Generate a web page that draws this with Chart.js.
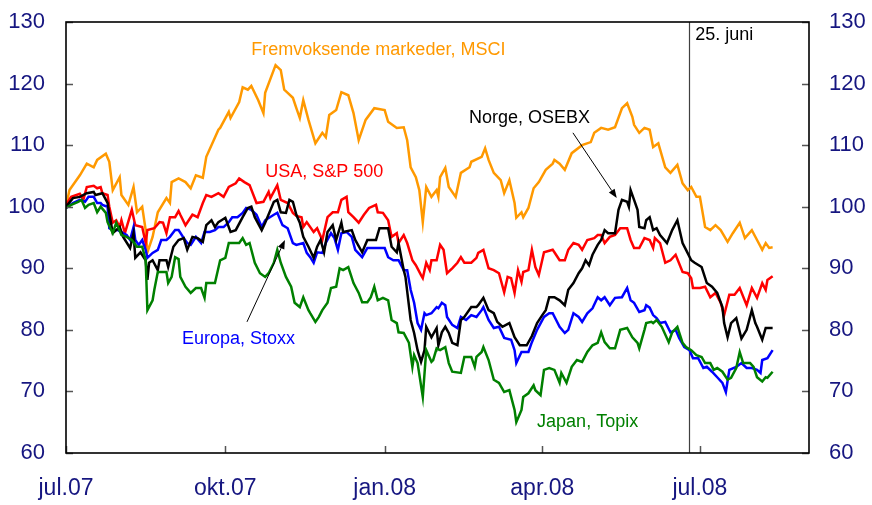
<!DOCTYPE html>
<html lang="no">
<head>
<meta charset="UTF-8">
<title>Aksjeindekser</title>
<script src="https://cdn.jsdelivr.net/npm/chart.js@4"></script>
<style>
  * { margin: 0; padding: 0; box-sizing: border-box; }
  body { background: #fff; }
  .wrap { position: relative; width: 872px; height: 505px; }
</style>
</head>
<body>
<div class="wrap"><canvas id="chart"></canvas></div>
<script>
// x = days since 1 Jul 2007, y = index (1 Jul 2007 = 100)
const tickDays = [0, 92, 184, 275, 366];
const tickLabels = ['jul.07', 'okt.07', 'jan.08', 'apr.08', 'jul.08'];
const markerDay = 360; // 25. juni

const msci = [[0,100],[2,102.7],[8,105.1],[12,107],[16,106.4],[18,107.6],[23,108.6],[25,107.3],[27,102.7],[31,104.8],[32,101.9],[36,100.3],[39,103.2],[41,99.1],[44,100],[46,96.2],[47,92.6],[50,95.1],[53,99.1],[58,101.4],[60,100.6],[61,104],[65,104.6],[69,104],[72,103],[75,105.1],[79,104.7],[81,108.1],[84,110],[88,112.5],[89,112.8],[94,115.4],[95,114.4],[100,117],[102,119.4],[105,119],[107,119.6],[111,117.3],[114,115.2],[115,118.5],[121,123],[124,122.2],[126,119],[128,118.5],[131,117.7],[133,116],[135,114.4],[137,117.3],[140,114.1],[144,110.3],[148,112],[150,111.3],[152,114.9],[156,115.7],[159,118.6],[163,118.1],[166,115.2],[169,110.8],[173,114.1],[178,116],[184,115.7],[186,113.8],[191,112.8],[195,112.9],[197,110.8],[199,106.4],[202,104.8],[204,102.7],[206,97.5],[208,103.2],[211,101.6],[214,102.7],[215,101.6],[216,104.8],[219,106.3],[221,103.2],[225,101.6],[228,105.5],[233,106.4],[234,107.3],[240,108.1],[242,109.5],[244,107.6],[247,105.5],[251,104.3],[253,102.2],[256,104.3],[259,100.6],[260,98.2],[263,99.1],[264,98.3],[267,99.8],[270,103],[273,104],[277,106],[281,107],[282,107.6],[285,107],[288,106],[292,108.7],[298,110],[303,110.5],[305,112],[309,112.8],[313,112.5],[317,112.9],[321,116],[324,116.8],[327,114.6],[328,113.3],[331,112],[334,112.8],[337,112.5],[339,109.7],[342,110.3],[346,106.4],[349,105.5],[353,106.8],[356,103.8],[359,102.7],[361,103.2],[364,101.6],[366,101.6],[369,96.7],[372,96.2],[375,97],[378,96.2],[382,94.3],[385,95.7],[389,97.4],[392,94.9],[396,96.2],[399,94.6],[402,93],[404,94.1],[406,93.3],[408,93.4]];

const sp500 = [[0,100.3],[3,101.6],[8,102.1],[10,101.1],[12,103.2],[16,103.4],[18,103],[20,103.2],[21,102.2],[24,101.9],[25,100],[27,97.4],[29,97.8],[31,96.7],[32,97.8],[34,95.7],[38,99.5],[40,97],[44,96.7],[46,94.1],[47,96.2],[51,96.5],[54,97.5],[56,97.4],[58,95.7],[60,98.3],[63,98.3],[65,99.3],[66,98.7],[69,97],[73,98.7],[76,98.3],[79,100.6],[81,101.9],[84,101.6],[88,102.2],[91,101.6],[94,103.2],[98,103.8],[100,104.6],[103,104],[106,103.5],[110,100.6],[114,100.8],[117,102.4],[118,101.4],[122,103.5],[124,101.1],[128,100.6],[131,99],[133,98.5],[136,98.3],[137,96.7],[139,97.5],[143,95.9],[145,96.5],[148,94.6],[151,98.3],[154,99.1],[157,99.1],[159,101.1],[162,101.6],[163,99.1],[166,98.3],[169,97.4],[172,98.7],[175,99.8],[179,100.3],[180,99.1],[183,99],[186,97.8],[188,95.1],[191,95.7],[192,94.1],[195,95.4],[197,94.1],[200,91.3],[202,90.5],[205,88.9],[206,88.4],[208,90.9],[210,89.7],[211,91.3],[214,91.3],[216,93.8],[218,93],[220,89.2],[223,90],[226,90.9],[228,91.8],[230,90.9],[234,90.9],[237,91.7],[238,92.5],[241,93],[244,90],[247,89.7],[250,89.2],[253,86.1],[255,88.6],[257,88.4],[259,86],[261,89.7],[263,87.8],[264,89.4],[267,89.7],[269,93],[271,90.2],[273,88.9],[276,92.6],[281,93],[282,92.6],[285,91.3],[288,91.3],[290,93],[293,94.1],[296,93.8],[298,93],[301,94.6],[305,94.9],[307,95.4],[309,95.4],[311,94.1],[314,95.1],[317,95.4],[320,96.5],[324,96.5],[326,94.6],[328,93.3],[331,93.3],[334,94.9],[337,94.6],[339,93.3],[340,94.9],[343,94.1],[346,90.9],[349,91.3],[352,92.2],[356,89.4],[359,89.2],[361,88.4],[362,86.8],[366,86.8],[369,87],[372,85.3],[375,86],[378,84.4],[380,82.4],[383,85.7],[386,85.7],[389,86.8],[393,84],[396,86.8],[399,85.2],[402,87.6],[404,86.5],[405,88.1],[408,88.7]];

const osebx = [[0,100],[4,101.4],[8,101.6],[12,102.2],[16,102.4],[17,101.9],[21,102.2],[24,100.6],[27,95.7],[29,96.2],[31,96.7],[33,95.1],[37,93.3],[39,95.7],[40,91.7],[43,92.6],[46,91.3],[47,88.1],[48,90.9],[50,91.3],[53,89.7],[54,91.3],[58,91.3],[59,90.2],[62,93.5],[65,94.6],[68,94.9],[70,93],[73,95.1],[76,94.9],[79,94.3],[81,97],[84,97.8],[86,96.7],[88,97.5],[92,98.2],[95,95.9],[98,96.2],[102,98.3],[105,99.8],[107,100],[109,98.3],[113,96.2],[115,97.4],[120,100.8],[122,101.1],[124,99.1],[127,99],[129,101.1],[131,100.8],[133,98.7],[135,97.4],[137,95.1],[140,93.5],[143,91.7],[145,93.5],[147,94.6],[149,92.6],[151,95.9],[154,97],[156,94.6],[159,97.4],[160,95.9],[165,96.2],[167,94.6],[171,92.6],[174,94.6],[179,94.6],[181,96.5],[186,96.5],[188,93.5],[191,92.6],[192,94.1],[195,89.7],[196,88.6],[199,81.6],[201,79.5],[203,76.7],[205,74.8],[207,76.7],[208,80.5],[211,78.8],[214,80.3],[215,77.5],[217,79.6],[219,80.5],[221,79.5],[223,77.9],[226,77.5],[228,81.6],[230,82.1],[234,83.7],[237,83.7],[238,84],[241,85.2],[244,83.2],[247,82.7],[249,81.3],[252,80.5],[256,81.1],[259,78.8],[262,77.5],[266,77.5],[269,79],[272,81.1],[275,82.4],[277,83.2],[279,85.3],[282,85.3],[285,84.8],[288,84],[290,86.5],[293,87.6],[296,89.2],[298,90],[300,91.3],[302,90.5],[304,92.2],[307,93.8],[309,94.6],[311,96.2],[313,95.7],[317,95.7],[319,99.5],[321,101.1],[324,100.8],[325,100],[326,102.7],[328,101.1],[330,99.5],[331,96.7],[334,96.5],[335,97.8],[337,98.3],[339,96.2],[341,96.5],[343,95.4],[347,94.1],[350,96.2],[353,97.8],[356,94.1],[358,93],[361,91.3],[363,90.9],[367,90.2],[370,87.6],[373,87],[376,86],[379,83.7],[380,81.1],[382,78.8],[384,81.1],[387,81.9],[390,78.6],[393,80],[396,83.2],[398,81.1],[399,80.5],[402,78.4],[404,80.3],[405,80.3],[408,80.3]];

const stoxx = [[0,99.8],[4,100.6],[8,101.1],[11,100.8],[13,101.6],[16,101.6],[18,100.6],[20,100.6],[21,100.3],[24,100],[25,96.5],[27,96.2],[30,96.2],[33,95.7],[35,95.4],[37,94.6],[39,96.7],[40,94.6],[42,93.8],[44,94.6],[46,93],[47,91.7],[50,92.5],[53,93],[55,94.6],[58,94.6],[60,95.1],[63,96.2],[65,96.2],[68,94.9],[70,94.1],[72,93.8],[75,95.1],[78,94.1],[80,95.9],[83,95.9],[86,96.2],[88,96.7],[91,96.7],[94,97.5],[96,98.3],[99,98.3],[102,99],[104,99.8],[107,99.5],[110,98.7],[113,96.7],[115,97.8],[120,98.7],[122,99],[125,97],[128,96.5],[131,94.1],[133,93.8],[137,94.1],[139,92.5],[141,91.8],[143,90.9],[145,92.6],[148,92.5],[150,94.1],[153,95.7],[155,94.9],[157,93],[159,95.7],[162,95.9],[165,95.1],[167,93],[171,91.8],[174,93.3],[179,93.3],[184,93.3],[186,91.8],[189,91.3],[192,91.3],[195,89.7],[197,89.7],[199,86.5],[201,84.4],[203,81.1],[205,80],[207,82.7],[208,82.4],[211,82.7],[214,83.7],[215,83.5],[217,84.4],[219,84],[220,82.1],[223,80.8],[226,80.3],[228,82.1],[231,81.6],[234,82.4],[237,82.1],[240,83.2],[241,83.7],[244,81.6],[247,80.3],[250,80.5],[253,78.7],[257,78.4],[259,76.7],[260,74.6],[263,76.4],[267,76.4],[269,78],[272,80],[276,82.1],[279,82.7],[281,82.7],[283,81.6],[285,80.5],[288,79.5],[290,80],[293,82.7],[296,82.1],[298,81.3],[301,82.7],[304,83.5],[307,85.3],[309,84.8],[311,85.3],[314,84],[317,85.2],[321,85.3],[324,86.8],[326,84.8],[328,84.4],[331,82.9],[334,83.2],[335,84],[337,83.6],[339,82.4],[341,81.9],[343,81.1],[346,81.3],[349,79.6],[352,80],[354,78.7],[357,77.2],[360,76.7],[362,75.4],[365,75.4],[368,73.8],[370,74],[373,73.2],[376,72.3],[379,71.4],[381,69.9],[383,73.5],[387,74],[390,74.6],[393,73.8],[396,73.8],[399,73.5],[401,73],[402,75.1],[405,75.4],[408,76.7]];

const topix = [[0,99.8],[3,100.3],[7,100.8],[9,101.1],[11,99.8],[13,100.3],[16,100.6],[18,99.1],[20,100],[23,99],[24,97.5],[27,95.7],[29,97.4],[32,95.4],[35,95.1],[38,94.6],[41,93.5],[44,93.5],[46,91.3],[47,83.2],[50,84.8],[51,86.5],[53,89.4],[55,89.4],[58,89.4],[59,87.6],[61,88.6],[63,91.8],[65,91.5],[66,88.6],[69,87],[72,86],[75,86.8],[78,86.8],[80,85.2],[81,87.6],[86,87.6],[89,91.3],[92,91.7],[94,94.1],[100,94.1],[102,94.9],[104,93.8],[106,94.1],[109,90.9],[112,89.2],[115,88.6],[117,89.2],[120,90.9],[122,93],[124,90.9],[127,88.6],[130,87],[132,84.4],[135,83.7],[137,85.3],[140,83.2],[141,82.7],[144,81.3],[146,82.1],[148,83.2],[151,84.4],[153,86.8],[156,87],[158,90],[160,89.7],[163,90.2],[166,87.6],[169,86],[171,84.5],[174,84.5],[176,85.3],[178,87],[180,84.8],[183,85.2],[186,84.8],[188,81.6],[191,81.1],[192,79.6],[195,79.5],[198,77.9],[200,74],[201,75.9],[203,74.6],[206,69.1],[208,76.7],[211,74.8],[212,75.1],[214,77],[216,76.7],[219,77.2],[221,74.6],[223,73.2],[228,73],[230,75.6],[234,75.6],[236,74],[237,75.6],[240,76.4],[241,77.2],[244,75.1],[247,71.9],[250,71.4],[253,69.9],[256,70.2],[259,67],[260,65],[263,67],[264,69.1],[267,69.7],[270,71],[271,70.2],[274,69.4],[276,73.5],[279,73.8],[282,73.5],[285,71.4],[286,73],[289,71.4],[292,74],[295,75.1],[298,74.8],[301,76.4],[304,77.5],[307,77.9],[309,79.6],[311,78],[314,77],[317,77],[320,80],[324,80.3],[327,78.8],[330,77.9],[331,77],[334,80],[335,81.1],[338,81.3],[339,81.1],[341,81.6],[344,80.5],[348,78],[350,79.6],[353,80.5],[356,77.9],[358,77.2],[361,76.7],[364,75.9],[367,75.6],[369,74.6],[372,74.6],[374,73.5],[376,73.8],[379,73.2],[382,71.9],[384,72.2],[387,73.8],[389,76.4],[391,74.6],[395,74.6],[397,74],[399,72.3],[402,71.6],[404,72.3],[405,72.2],[408,73.2]];

// labels placed in data units: left edge day, vertical middle value
const notes = [
  { text: 'Fremvoksende markeder, MSCI', day: 107, value: 125.5, color: '#FF9900' },
  { text: 'USA, S&P 500', day: 115, value: 105.6, color: '#FF0000' },
  { text: 'Norge, OSEBX', day: 232.7, value: 114.4, color: '#000000' },
  { text: 'Europa, Stoxx', day: 67, value: 78.5, color: '#0000FF' },
  { text: 'Japan, Topix', day: 272, value: 65, color: '#008000' },
  { text: '25. juni', day: 363.3, value: 127.9, color: '#000000' }
];
const arrows = [
  { from: [292.7, 112], to: [318, 101.4] },
  { from: [104.5, 81.3], to: [126.4, 94.6] }
];

const navy = '#161680';
const fontFam = '"Liberation Sans", Arial, sans-serif';

const overlay = {
  id: 'overlay',
  beforeDatasetsDraw(chart) {
    const { ctx, chartArea: a, scales: { x } } = chart;
    const px = Math.round(x.getPixelForValue(markerDay)) + 0.5;
    ctx.save();
    ctx.strokeStyle = '#404040';
    ctx.lineWidth = 1.2;
    ctx.beginPath();
    ctx.moveTo(px, a.top);
    ctx.lineTo(px, a.bottom);
    ctx.stroke();
    ctx.restore();
  },
  afterDatasetsDraw(chart) {
    const { ctx, chartArea: a, scales: { x, y } } = chart;
    ctx.save();
    // inward tick marks
    ctx.strokeStyle = '#555';
    ctx.lineWidth = 1.5;
    ctx.beginPath();
    y.ticks.forEach(t => {
      const py = Math.round(y.getPixelForValue(t.value)) + 0.5;
      ctx.moveTo(a.left, py); ctx.lineTo(a.left + 7, py);
      ctx.moveTo(a.right, py); ctx.lineTo(a.right - 7, py);
    });
    tickDays.forEach(d => {
      const px = Math.round(x.getPixelForValue(d)) + 0.5;
      ctx.moveTo(px, a.bottom); ctx.lineTo(px, a.bottom - 7);
    });
    ctx.stroke();
    // frame
    ctx.strokeStyle = '#000';
    ctx.lineWidth = 1.6;
    ctx.strokeRect(a.left, a.top, a.right - a.left, a.bottom - a.top);
    // text labels
    ctx.font = '18px ' + fontFam;
    ctx.textBaseline = 'middle';
    ctx.textAlign = 'left';
    notes.forEach(n => {
      ctx.fillStyle = n.color;
      ctx.fillText(n.text, x.getPixelForValue(n.day), y.getPixelForValue(n.value));
    });
    // arrows
    ctx.strokeStyle = '#000';
    ctx.fillStyle = '#000';
    ctx.lineWidth = 1;
    arrows.forEach(ar => {
      const x1 = x.getPixelForValue(ar.from[0]), y1 = y.getPixelForValue(ar.from[1]);
      const x2 = x.getPixelForValue(ar.to[0]), y2 = y.getPixelForValue(ar.to[1]);
      const ang = Math.atan2(y2 - y1, x2 - x1);
      const len = 9, w = 3.5;
      ctx.beginPath();
      ctx.moveTo(x1, y1);
      ctx.lineTo(x2 - len * Math.cos(ang), y2 - len * Math.sin(ang));
      ctx.stroke();
      ctx.beginPath();
      ctx.moveTo(x2, y2);
      ctx.lineTo(x2 - len * Math.cos(ang) + w * Math.sin(ang), y2 - len * Math.sin(ang) - w * Math.cos(ang));
      ctx.lineTo(x2 - len * Math.cos(ang) - w * Math.sin(ang), y2 - len * Math.sin(ang) + w * Math.cos(ang));
      ctx.closePath();
      ctx.fill();
    });
    ctx.restore();
  }
};

const toXY = arr => arr.map(p => ({ x: p[0], y: p[1] }));
const line = (data, color) => ({
  data: toXY(data),
  borderColor: color,
  borderWidth: 2.5,
  pointRadius: 0,
  tension: 0,
  fill: false,
  yAxisID: 'y'
});

const yAxis = (pos, width, pad) => ({
  position: pos,
  min: 60,
  max: 130,
  grid: { display: false, drawTicks: false },
  border: { display: false },
  ticks: { stepSize: 10, color: navy, font: { family: fontFam, size: 22 }, padding: pad },
  afterFit: s => { s.width = width; s.paddingTop = 0; s.paddingBottom = 0; }
});

new Chart(document.getElementById('chart'), {
  type: 'line',
  data: {
    datasets: [
      line(topix, '#008000'),
      line(osebx, '#000000'),
      line(stoxx, '#0000FF'),
      line(sp500, '#FF0000'),
      line(msci, '#FF9900')
    ]
  },
  options: {
    responsive: true,
    maintainAspectRatio: false,
    animation: false,
    layout: { padding: { top: 22, left: 0, right: 0, bottom: 0 } },
    plugins: { legend: { display: false }, tooltip: { enabled: false } },
    scales: {
      x: {
        type: 'linear',
        min: 0,
        max: 429,
        grid: { display: false, drawTicks: false },
        border: { display: false },
        afterBuildTicks: s => { s.ticks = tickDays.map(v => ({ value: v })); },
        ticks: {
          autoSkip: false,
          maxRotation: 0,
          color: navy,
          font: { family: fontFam, size: 23 },
          padding: 22,
          callback: (v, i) => tickLabels[i]
        },
        afterFit: s => { s.height = 52; }
      },
      y: yAxis('left', 66, 21),
      y2: yAxis('right', 63, 20)
    }
  },
  plugins: [overlay]
});
</script>
</body>
</html>
